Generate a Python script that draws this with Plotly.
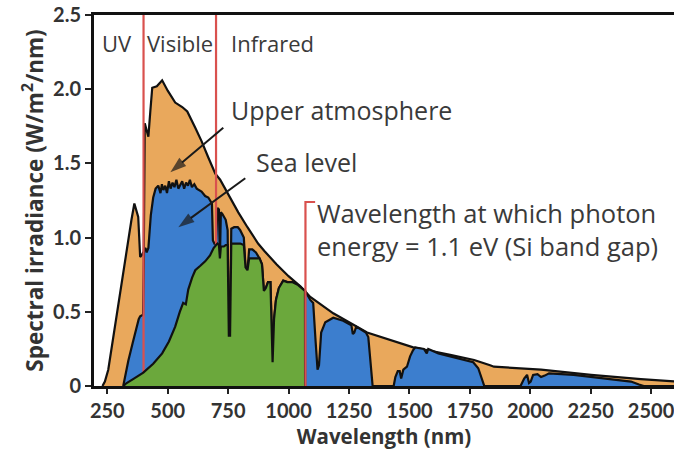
import plotly.graph_objects as go

# ---------------- data ----------------
upper_wl = [230, 240, 254, 275, 295, 315, 337, 350, 362, 370, 378, 386, 392, 399, 401, 405, 410, 420,
            428, 436, 455, 477, 500, 531, 560, 581, 614, 640, 668, 697, 717, 750, 792, 830, 874, 900,
            950, 1000, 1050, 1090, 1185, 1325, 1516, 1669, 1768, 1834, 1850, 2045, 2252, 2458, 2600]
upper_val = [0.0, 0.03, 0.11, 0.33, 0.56, 0.78, 1.00, 1.12, 1.23, 1.19, 1.14, 0.87, 0.88, 0.90, 0.90,
             1.77, 1.74, 1.68, 1.85, 2.01, 2.02, 2.06, 1.99, 1.91, 1.88, 1.85, 1.74, 1.65, 1.54, 1.43,
             1.39, 1.29, 1.17, 1.07, 0.96, 0.91, 0.82, 0.74, 0.67, 0.60, 0.49, 0.36, 0.26, 0.21, 0.175,
             0.14, 0.13, 0.11, 0.075, 0.047, 0.03]

sea_wl = [316, 325, 337, 355, 374, 380, 386, 398, 402, 408, 413, 420, 430, 440, 450, 461, 470, 476,
          482, 490, 497, 505, 512, 520, 528, 536, 544, 552, 560, 568, 576, 584, 592, 600, 610, 620,
          630, 640, 655, 668, 683, 687, 693, 700, 706, 712, 716, 720, 726, 732, 740, 748, 753, 758,
          763, 775, 790, 800, 815, 822, 830, 837, 850, 865, 880, 890, 898, 906, 915, 925, 930, 934,
          940, 948, 960, 978, 995, 1015, 1040, 1069, 1090, 1102, 1112, 1120, 1126, 1135, 1152, 1185,
          1226, 1260, 1266, 1272, 1280, 1300, 1320, 1330, 1340, 1348, 1435, 1442, 1452, 1460, 1466,
          1475, 1490, 1503, 1515, 1524, 1560, 1572, 1578, 1620, 1669, 1720, 1764, 1785, 1800, 1810,
          1960, 1975, 1987, 1995, 2002, 2012, 2030, 2045, 2060, 2078, 2180, 2318, 2417, 2450, 2470,
          2600]
sea_val = [0.0, 0.08, 0.17, 0.29, 0.42, 0.45, 0.47, 0.48, 0.92, 0.93, 0.90, 0.93, 1.15, 1.27, 1.33,
           1.35, 1.30, 1.36, 1.32, 1.35, 1.30, 1.38, 1.33, 1.37, 1.34, 1.39, 1.33, 1.36, 1.38, 1.33,
           1.37, 1.35, 1.39, 1.34, 1.36, 1.33, 1.32, 1.31, 1.28, 1.27, 1.23, 0.98, 0.96, 0.97, 1.20,
           1.19, 0.86, 1.17, 1.16, 1.14, 1.12, 1.05, 0.34, 0.34, 1.06, 1.07, 1.07, 1.05, 1.00, 0.80,
           0.78, 0.92, 0.92, 0.90, 0.86, 0.82, 0.64, 0.66, 0.70, 0.70, 0.40, 0.16, 0.45, 0.58, 0.66,
           0.71, 0.70, 0.70, 0.68, 0.64, 0.58, 0.56, 0.30, 0.11, 0.14, 0.36, 0.43, 0.46, 0.44, 0.41,
           0.35, 0.36, 0.40, 0.38, 0.36, 0.33, 0.15, 0.0, 0.0, 0.06, 0.10, 0.10, 0.05, 0.11, 0.13,
           0.20, 0.24, 0.26, 0.25, 0.22, 0.25, 0.22, 0.20, 0.18, 0.16, 0.12, 0.04, 0.0, 0.0, 0.05,
           0.075, 0.02, 0.03, 0.075, 0.08, 0.06, 0.07, 0.085, 0.075, 0.05, 0.03, 0.01, 0.0, 0.0]

si_wl = [316, 330, 360, 399, 440, 477, 505, 531, 550, 564, 575, 585, 601, 614, 635, 655, 675, 690,
         700, 706, 712, 716, 720, 732, 740, 748, 753, 758, 763, 790, 800, 815, 822, 830, 837, 880,
         890, 898, 906, 915, 925, 930, 934, 940, 948, 960, 978, 995, 1015, 1040, 1068, 1068.5]
si_val = [0.0, 0.02, 0.05, 0.09, 0.15, 0.22, 0.30, 0.40, 0.50, 0.56, 0.55, 0.65, 0.73, 0.78, 0.81,
          0.84, 0.88, 0.93, 0.95, 0.96, 0.95, 0.86, 0.94, 0.94, 0.95, 0.95, 0.34, 0.34, 0.96, 0.96,
          0.96, 0.95, 0.80, 0.78, 0.86, 0.86, 0.82, 0.64, 0.66, 0.70, 0.70, 0.40, 0.16, 0.45, 0.58,
          0.66, 0.71, 0.70, 0.70, 0.68, 0.64, 0.0]

band_edges = [400, 700]          # UV/visible and visible/IR boundaries (nm)
si_gap_wl = 1070                 # wavelength of 1.1 eV photon marker (nm)
si_gap_top = 1.24
si_gap_tab = 1110

x_ticks = [250, 500, 750, 1000, 1250, 1500, 1750, 2000, 2250, 2500]
y_ticks = [0, 0.5, 1.0, 1.5, 2.0, 2.5]
y_tick_text = ["0", "0.5", "1.0", "1.5", "2.0", "2.5"]

# pointer arrows: (tail wl, tail val) -> (head wl, head val)
arrow_tail_wl = [730, 821]
arrow_tail_val = [1.74, 1.40]
arrow_head_wl = [511, 544]
arrow_head_val = [1.44, 1.07]

# ---------------- styles ----------------
ORANGE = "#E9A85C"
BLUE = "#3C7ECE"
GREEN = "#6BA83C"
RED = "#D9514E"
TXT = "#3a3a3a"
OUT = dict(color="#111111", width=2.2)

fig = go.Figure()
fig.add_trace(go.Scatter(x=upper_wl, y=upper_val, mode="lines", fill="tozeroy",
                         fillcolor=ORANGE, line=OUT, hoverinfo="skip"))
fig.add_trace(go.Scatter(x=sea_wl, y=sea_val, mode="lines", fill="tozeroy",
                         fillcolor=BLUE, line=OUT, hoverinfo="skip"))
for b in band_edges:
    fig.add_trace(go.Scatter(x=[b, b], y=[0, y_ticks[-1]], mode="lines",
                             line=dict(color=RED, width=2.2), hoverinfo="skip"))
fig.add_trace(go.Scatter(x=si_wl, y=si_val, mode="lines", fill="tozeroy",
                         fillcolor=GREEN, line=OUT, hoverinfo="skip"))
fig.add_trace(go.Scatter(x=[si_gap_wl, si_gap_wl, si_gap_tab], y=[0, si_gap_top, si_gap_top],
                         mode="lines", line=dict(color=RED, width=2.2), hoverinfo="skip"))

# arrows as line + arrow-head marker pointing along the segment
for tx, ty, hx, hy in zip(arrow_tail_wl, arrow_tail_val, arrow_head_wl, arrow_head_val):
    fig.add_trace(go.Scatter(x=[tx, hx], y=[ty, hy], mode="lines+markers",
                             line=dict(color="#1a1a1a", width=2),
                             marker=dict(symbol="arrow", size=[0, 17], angleref="previous",
                                         color="#1a1a1a", line=dict(width=0)),
                             hoverinfo="skip"))

texts = [
    ("UV", 233, 2.31, 22), ("Visible", 420, 2.31, 22), ("Infrared", 767, 2.31, 22),
    ("Upper atmosphere", 767, 1.86, 25), ("Sea level", 870, 1.51, 25),
    ("Wavelength at which photon", 1123, 1.166, 25.5),
    ("energy = 1.1 eV (Si band gap)", 1123, 0.943, 25.5),
]
for t, x, y, s in texts:
    fig.add_annotation(x=x, y=y, text=t, showarrow=False, xanchor="left", yanchor="middle",
                       xshift=-3, font=dict(family="Open Sans", size=s, color=TXT))

tick_font = dict(family="Lato", size=20, color="#333333", weight="bold")
fig.update_layout(
    width=674, height=455,
    margin=dict(l=94, r=0, t=15, b=69),
    paper_bgcolor="white", plot_bgcolor="white",
    showlegend=False,
    xaxis=dict(range=[195, 2595], tickvals=x_ticks, ticks="outside", ticklen=5, tickwidth=2,
               tickcolor="#222", showline=True, linewidth=3, linecolor="#111", mirror=True,
               showgrid=False, zeroline=False, tickfont=tick_font, ticklabeloverflow="allow",
               title=dict(text="Wavelength (nm)", standoff=3,
                          font=dict(family="Open Sans", size=20.5, color="#333333", weight="bold"))),
    yaxis=dict(range=[0, 2.5], tickvals=y_ticks, ticktext=y_tick_text, ticks="outside", ticklen=6,
               tickwidth=2, tickcolor="#222", showline=True, linewidth=3, linecolor="#111",
               mirror=False, showgrid=False, zeroline=False, tickfont=tick_font,
               title=dict(text="Spectral irradiance (W/m<sup>2</sup>/nm)", standoff=4,
                          font=dict(family="Open Sans", size=22.5, color="#333333", weight="bold"))),
)

fig.write_html("out.html")
